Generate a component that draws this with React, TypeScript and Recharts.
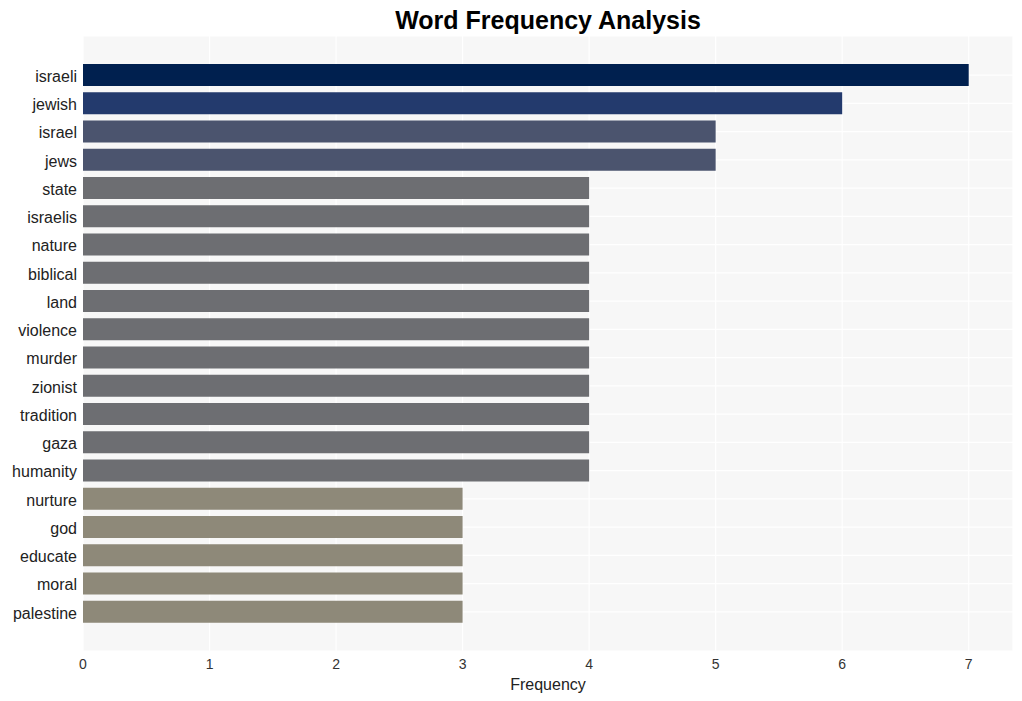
import { BarChart, Bar, XAxis, YAxis, CartesianGrid, Cell } from 'recharts';

const words = [
  'israeli', 'jewish', 'israel', 'jews', 'state', 'israelis', 'nature', 'biblical',
  'land', 'violence', 'murder', 'zionist', 'tradition', 'gaza', 'humanity',
  'nurture', 'god', 'educate', 'moral', 'palestine',
];
const counts = [7, 6, 5, 5, 4, 4, 4, 4, 4, 4, 4, 4, 4, 4, 4, 3, 3, 3, 3, 3];
const xTicks = [0, 1, 2, 3, 4, 5, 6, 7];

const colorFor = (v: number) => {
  if (v >= 7) return '#00204f';
  if (v >= 6) return '#233a6d';
  if (v >= 5) return '#4b546e';
  if (v >= 4) return '#6d6e72';
  return '#8e8979';
};

const data = words.map((w, i) => ({ word: w, count: counts[i] }));

const font = '"Liberation Sans", Arial, sans-serif';

const App = () => {
  return (
    <div style={{ position: 'absolute', left: 0, top: 0, width: 1022, height: 701, background: '#fff', fontFamily: font }}>
      <div
        style={{
          position: 'absolute', left: 83, width: 930, top: 4, textAlign: 'center',
          fontSize: 25, fontWeight: 'bold', color: '#000', lineHeight: '32px',
        }}
      >
        Word Frequency Analysis
      </div>
      <BarChart
        width={1022}
        height={701}
        data={data}
        layout="vertical"
        margin={{ top: 36, right: 9, bottom: 0, left: 0 }}
      >
        <CartesianGrid fill="#f7f7f7" stroke="#ffffff" strokeWidth={1.2} />
        <XAxis
          type="number"
          domain={[0, 7.35]}
          ticks={xTicks}
          axisLine={false}
          tickLine={false}
          height={50}
          tick={{ fill: '#333333', fontSize: 14, fontFamily: font }}
          label={{ value: 'Frequency', position: 'insideBottom', offset: 11, fill: '#222', fontSize: 16, fontFamily: font }}
        />
        <YAxis
          type="category"
          dataKey="word"
          width={83}
          axisLine={false}
          tickLine={false}
          interval={0}
          padding={{ top: 25, bottom: 25 }}
          tick={{ fill: '#222222', fontSize: 16, fontFamily: font, dy: 1 }}
          tickMargin={0}
        />
        <Bar dataKey="count" barSize={22} isAnimationActive={false}>
          {data.map((d) => (
            <Cell key={d.word} fill={colorFor(d.count)} />
          ))}
        </Bar>
      </BarChart>
    </div>
  );
};

export default App;
